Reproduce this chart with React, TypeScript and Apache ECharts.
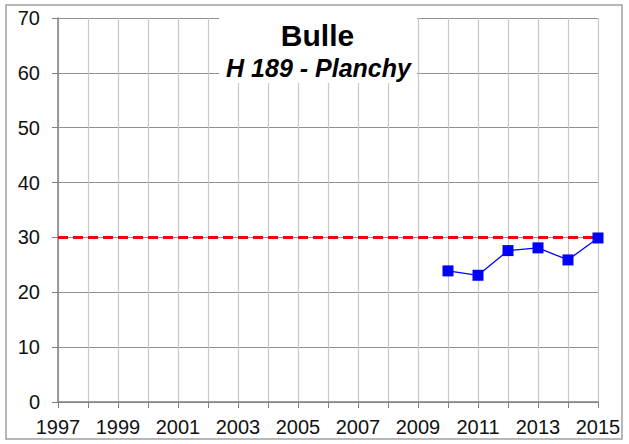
import React, { useEffect, useRef } from "react";
import * as echarts from "echarts";

const years = [2010, 2011, 2012, 2013, 2014, 2015];
const values = [23.9, 23.1, 27.6, 28.1, 25.9, 29.9];
const limitYears = [1997, 2015];
const limitValue = 30;
const titleText = "Bulle";
const subtitleText = "H 189 - Planchy";

export default function App() {
  const ref = useRef<HTMLDivElement>(null);
  useEffect(() => {
    if (!ref.current) return;
    const chart = echarts.init(ref.current, undefined, { renderer: "svg" });
    const font = "Liberation Sans, Arial, sans-serif";
    chart.setOption({
      animation: false,
      backgroundColor: "#ffffff",
      grid: { left: 58, right: 31, top: 18, bottom: 42, containLabel: false },
      xAxis: {
        type: "value",
        min: 1997,
        max: 2015,
        interval: 1,
        axisLine: { show: true, onZero: false, lineStyle: { color: "#808080", width: 1.5 } },
        axisTick: { show: true, length: 6, lineStyle: { color: "#808080" } },
        splitLine: { show: true, lineStyle: { color: "#c8c8c8", width: 1.2 } },
        axisLabel: {
          margin: 15,
          color: "#111",
          fontFamily: font,
          fontSize: 20,
          formatter: (v: number) => ((v - 1997) % 2 === 0 ? String(v) : ""),
        },
      },
      yAxis: {
        type: "value",
        min: 0,
        max: 70,
        interval: 10,
        axisLine: { show: true, lineStyle: { color: "#808080", width: 1.5 } },
        axisTick: { show: true, length: 6, lineStyle: { color: "#808080" } },
        splitLine: { show: true, lineStyle: { color: "#909090", width: 1.2 } },
        axisLabel: { margin: 18, color: "#111", fontFamily: font, fontSize: 20 },
      },
      series: [
        {
          type: "line",
          data: limitYears.map((y) => [y, limitValue]),
          symbol: "none",
          lineStyle: { color: "#ff0000", width: 3, type: [10, 5] },
          z: 3,
        },
        {
          type: "line",
          data: years.map((y, i) => [y, values[i]]),
          symbol: "rect",
          symbolSize: 11,
          itemStyle: { color: "#0000ff" },
          lineStyle: { color: "#0000ff", width: 1.3 },
          z: 4,
        },
      ],
      graphic: [
        {
          type: "rect",
          shape: { x: 6, y: 5, width: 616, height: 434 },
          style: { fill: "none", stroke: "#a0a0a0", lineWidth: 1.5 },
          z: 10,
        },
        {
          type: "rect",
          shape: { x: 219, y: 16, width: 198, height: 67 },
          style: { fill: "#ffffff" },
          z: 10,
        },
        {
          type: "text",
          x: 317.5,
          y: 35,
          style: {
            text: titleText,
            font: `bold 30px ${font}`,
            fill: "#000",
            textAlign: "center",
            textVerticalAlign: "middle",
          },
          z: 11,
        },
        {
          type: "text",
          x: 318.5,
          y: 68,
          style: {
            text: subtitleText,
            font: `italic bold 25px ${font}`,
            fill: "#000",
            textAlign: "center",
            textVerticalAlign: "middle",
          },
          z: 11,
        },
      ],
    });
    return () => chart.dispose();
  }, []);
  return (
    <div
      ref={ref}
      style={{ position: "absolute", left: 0, top: 0, width: 629, height: 444 }}
    />
  );
}
